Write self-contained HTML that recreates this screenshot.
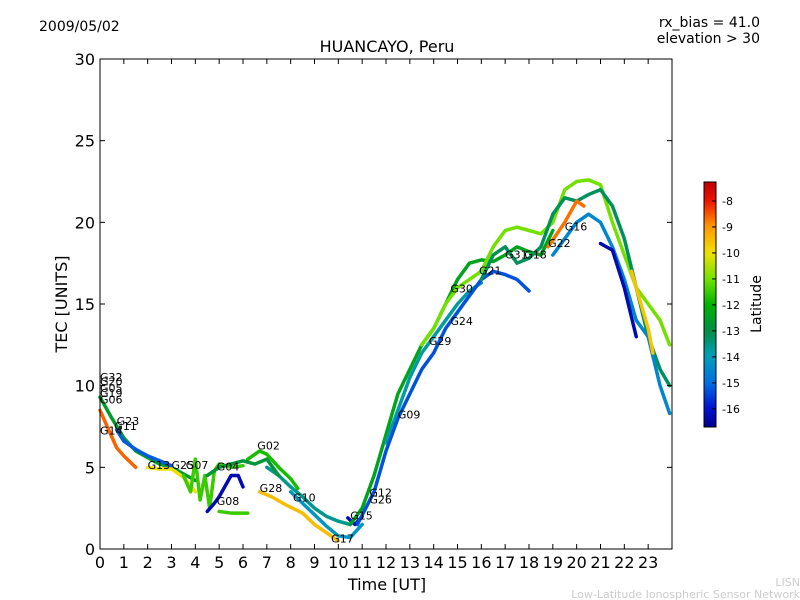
<!DOCTYPE html>
<html><head><meta charset="utf-8"><style>
body{margin:0;background:#fff;}
svg{display:block;font-family:"DejaVu Sans","Liberation Sans",sans-serif;}
</style></head><body>
<svg id="c" width="800" height="600" xmlns="http://www.w3.org/2000/svg">
<rect width="800" height="600" fill="#fff"/>
<text x="39" y="31" font-size="14">2009/05/02</text>
<text x="760" y="27" font-size="14" text-anchor="end">rx_bias = 41.0</text>
<text x="760" y="43" font-size="14" text-anchor="end">elevation &gt; 30</text>
<text x="387" y="52" font-size="16" text-anchor="middle">HUANCAYO, Peru</text>
<g id="marks"></g>
<g id="axes"></g>
<text x="387" y="590" font-size="16" text-anchor="middle">Time [UT]</text>
<text transform="translate(67,304) rotate(-90)" font-size="16" text-anchor="middle">TEC [UNITS]</text>
<text transform="translate(761,304) rotate(-90)" font-size="14" text-anchor="middle">Latitude</text>
<text x="800" y="586" font-size="11" fill="#ccc" text-anchor="end">LISN</text>
<text x="800" y="598" font-size="11" fill="#ccc" text-anchor="end">Low-Latitude Ionospheric Sensor Network</text>
</svg>
<script>
const xTicks=[0,1,2,3,4,5,6,7,8,9,10,11,12,13,14,15,16,17,18,19,20,21,22,23];
const yTicks=[0,5,10,15,20,25,30];
const cbTicks=[-8,-9,-10,-11,-12,-13,-14,-15,-16];
const seriesNames=["G06","G14","G11","G13","G07","G02","G08b","G08","G28","G17","G10","G15","R1","G21","G16b","R3","R4","R5","R6","R7","R8","G04"];
const seriesLat=[-12.6,-8.6,-15.2,-10,-11.5,-11.8,-16.3,-11.5,-9.5,-14.2,-13.6,-16.2,-12.4,-11,-13.8,-15.3,-13.2,-14.5,-16.3,-8.7,-9.6,-12.8];
const seriesT=[
[0,0.5,1,1.5,2,2.5,3,3.5,4],
[0,0.3,0.7,1,1.5],
[0.7,1,1.5,2,2.5,3],
[2,2.5,3,3.5,4],
[3.5,3.8,4,4.2,4.4,4.6,4.8,5,5.5,6],
[6.2,6.7,7,7.5,8,8.3],
[4.5,4.8,5,5.5,5.8,6],
[5,5.5,6,6.2],
[6.7,7.2,7.8,8.5,9,9.5,10],
[8,8.5,9,9.5,10,10.5,11],
[7,7.5,8,8.5,9,9.5,10,10.5],
[10.4,10.7,11],
[10.5,11,11.5,12,12.5,13,13.5,14,14.5,15,15.5,16,16.5,17,17.5,18,18.5,19],
[13.5,14,14.5,15,15.5,16,16.5,17,17.5,18,18.5,19,19.5,20,20.5,21,21.5,22,22.5,23,23.5,23.9],
[12,12.5,13,13.5,14,14.5,15,15.5,16],
[10.8,11.5,12,12.5,13,13.5,14,14.5,15,15.5,16,16.5,17,17.5,18],
[16,16.5,17,17.5,18,18.5,19,19.5,20,20.5,21,21.5,22,22.5,23,23.5,23.9],
[19,19.5,20,20.5,21,21.5,22,22.5,23,23.5,23.9],
[21,21.5,22,22.5],
[18.8,19.5,20,20.3],
[22.3,22.7,23,23.2],
[4.5,5,5.5,6,6.5,7,7.5]
];
const seriesV=[
[9.3,8,6.8,6,5.6,5.2,5,4.6,4.2],
[8.5,7.5,6.2,5.7,5.0],
[7.3,6.6,6.1,5.7,5.4,5.1],
[5,4.9,4.9,4.4,3.5],
[4.5,3.5,5.5,3,4.5,2.5,4.8,5.2,5,5.1],
[5.5,6,5.8,5,4.3,3.7],
[2.3,2.8,3.2,4.5,4.5,3.8],
[2.3,2.2,2.2,2.2],
[3.5,3.2,2.7,2.2,1.5,1,0.5],
[3.5,2.8,2.1,1.4,0.8,0.7,1.5],
[5,4.5,3.8,3.2,2.5,2,1.7,1.5],
[1.9,1.5,2],
[1.5,2.5,4.5,7,9.5,11,12.5,13.5,15,16.5,17.5,17.7,17.6,18,18.5,18.2,18,19.5],
[12.5,13.5,15,16,16.5,17,18.5,19.5,19.7,19.5,19.3,20,22,22.5,22.6,22.3,20,18,16,15,14,12.5],
[6.5,8.5,10.5,12,13,14,15,15.8,16.3],
[1.5,3.5,6,8,9.5,11,12,13.5,14.5,15.5,16.5,17,16.8,16.5,15.8],
[16.5,18,18.5,17.5,17.8,18.5,20.5,21.5,21.3,21.7,22,21,19,16,13,11,10],
[18,19,20,20.5,20,18.5,16.5,14,13,10,8.3],
[18.7,18.3,16,13],
[18.5,20,21.3,21],
[17,15,13.5,12],
[4.5,5,5.2,5.4,5.2,5.5,4.5]
];
const labelNames=["G32","G20","G05","G19","G06","G23","G11","G14","G13","G25","G07","G04","G02","G08","G28","G10","G17","G15","G12","G26","G09","G29","G24","G30","G21","G31","G18","G22","G16"];
const labelT=[0,0,0,0,0,0.7,0.6,0,2,3,3.6,4.9,6.6,4.9,6.7,8.1,9.7,10.5,11.3,11.3,12.5,13.8,14.7,14.7,15.9,17,17.8,18.8,19.5];
const labelV=[10.3,10,9.6,9.3,8.9,7.6,7.3,7.0,4.9,4.9,4.9,4.8,6.1,2.7,3.5,2.9,0.4,1.8,3.2,2.8,8.0,12.5,13.7,15.7,16.8,17.8,17.8,18.5,19.5];
const X0=100,X1=672,Y0=549,Y1=59;
const xs=t=>X0+t*(X1-X0)/24;
const ys=v=>Y0-v*(Y0-Y1)/30;
const CB0=182,CB1=427,LMAX=-7.27,LMIN=-16.7;
const cbY=l=>CB0+(LMAX-l)/(LMAX-LMIN)*(CB1-CB0);
const cmap=[[0,[0,0,140]],[0.08,[0,20,210]],[0.18,[0,110,225]],[0.29,[0,160,185]],[0.39,[0,140,70]],[0.5,[0,180,0]],[0.6,[110,225,0]],[0.71,[240,225,0]],[0.82,[255,150,0]],[0.92,[240,20,0]],[1,[190,0,0]]];
function jet(f){f=Math.max(0,Math.min(1,f));
 for(let i=1;i<cmap.length;i++){if(f<=cmap[i][0]){const a=cmap[i-1],b=cmap[i],u=(f-a[0])/(b[0]-a[0]);
  return 'rgb('+a[1].map((v,k)=>Math.round(v+(b[1][k]-v)*u)).join(',')+')';}}
 return 'rgb(190,0,0)';}
const col=l=>jet((l-LMIN)/(LMAX-LMIN));
const NS="http://www.w3.org/2000/svg";
const mk=(tag,a,p)=>{const e=document.createElementNS(NS,tag);for(const k in a)e.setAttribute(k,a[k]);p.appendChild(e);return e;};
const marks=document.getElementById('marks'),axes=document.getElementById('axes');
seriesNames.forEach((n,i)=>{
 const p=mk('polyline',{points:seriesT[i].map((t,j)=>xs(t)+','+ys(seriesV[i][j])).join(' '),fill:'none',stroke:col(seriesLat[i]),'stroke-width':3.5,'stroke-linejoin':'round','stroke-linecap':'round'},marks);
 
 
});
labelNames.forEach((n,i)=>{
 const t=mk('text',{x:xs(labelT[i]),y:ys(labelV[i]),'font-size':11},marks);
 t.textContent=n;
 
 
});
const fr=mk('rect',{x:X0,y:Y1,width:X1-X0,height:Y0-Y1,fill:'none',stroke:'#000','stroke-width':1},axes);


xTicks.forEach(t=>{
 mk('line',{x1:xs(t),x2:xs(t),y1:Y0,y2:Y0-5,stroke:'#000'},axes);
 mk('line',{x1:xs(t),x2:xs(t),y1:Y1,y2:Y1+5,stroke:'#000'},axes);
 const l=mk('text',{x:xs(t),y:568,'font-size':16,'text-anchor':'middle'},axes);l.textContent=t;
 
 
});
yTicks.forEach(v=>{
 mk('line',{x1:X0,x2:X0+5,y1:ys(v),y2:ys(v),stroke:'#000'},axes);
 mk('line',{x1:X1,x2:X1-5,y1:ys(v),y2:ys(v),stroke:'#000'},axes);
 const l=mk('text',{x:95,y:ys(v)+6,'font-size':16,'text-anchor':'end'},axes);l.textContent=v;
 
 
});
const defs=mk('defs',{},axes);
const g=mk('linearGradient',{id:'jg',x1:0,y1:1,x2:0,y2:0},defs);
for(let k=0;k<=40;k++)mk('stop',{offset:k/40,'stop-color':jet(k/40)},g);
const cb=mk('rect',{x:704,y:CB0,width:12,height:CB1-CB0,fill:'url(#jg)',stroke:'#000'},axes);


cbTicks.forEach(l=>{
 mk('line',{x1:712,x2:716,y1:cbY(l),y2:cbY(l),stroke:'#000'},axes);
 const t=mk('text',{x:722,y:cbY(l)+4,'font-size':11},axes);t.textContent=l;
 
 
});
</script>
</body></html>
